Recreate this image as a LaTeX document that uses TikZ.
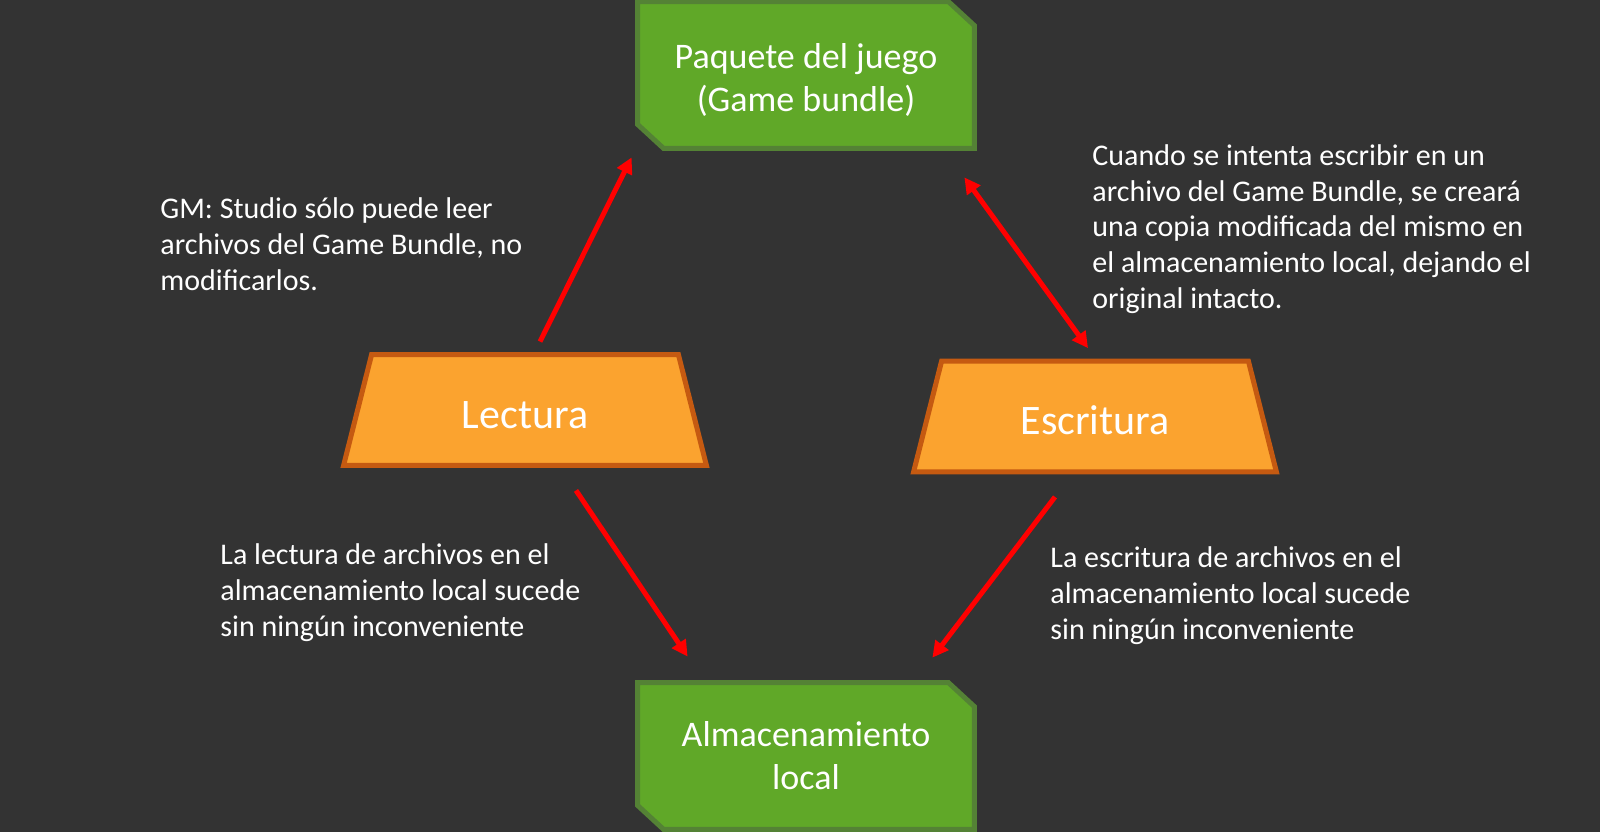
\documentclass[tikz,border=0pt]{standalone}
\usepackage{fontspec}
\setmainfont{Carlito}
\usetikzlibrary{calc,arrows.meta}
\definecolor{bgdark}{HTML}{333333}
\definecolor{boxgreen}{HTML}{60A828}
\definecolor{edgegreen}{HTML}{548235}
\definecolor{boxorange}{HTML}{FBA32F}
\definecolor{edgeorange}{HTML}{C55A11}
\definecolor{arrowred}{HTML}{FF0000}
\pgfdeclarelayer{canvas}
\pgfdeclarelayer{shapes}
\pgfsetlayers{canvas,shapes,main}
\tikzset{
  storebox/.style={minimum width=168pt, minimum height=73pt, inner sep=0pt,
    text=white, align=center, font=\fontsize{18}{21.5}\selectfont},
  modebox/.style={minimum width=181pt, minimum height=55pt, inner sep=0pt,
    text height=18pt, text depth=0pt, text=white, font=\fontsize{21}{25}\selectfont},
  note/.style={anchor=base west, inner sep=0pt, text=white, align=left,
    font=\fontsize{15}{17.8}\selectfont},
  greenedge/.style={fill=boxgreen, draw=edgegreen, line width=2.5pt, line join=miter},
  orangeedge/.style={fill=boxorange, draw=edgeorange, line width=2.5pt, line join=miter},
  flow/.style={draw=arrowred, line width=2.5pt, -{Triangle[length=8pt,width=8pt]}},
  flowboth/.style={draw=arrowred, line width=2.5pt, {Triangle[length=8pt,width=8pt]}-{Triangle[length=8pt,width=8pt]}}
}
\begin{document}
\begin{tikzpicture}[x=0.5pt, y=-0.5pt]
    \begin{pgfonlayer}{canvas}
        \fill [bgdark] (0,0) rectangle (1600,832);
    \end{pgfonlayer}
    \useasboundingbox (0,0) rectangle (1600,832);

    % storage boxes
    \node [storebox] (bundle) at (806,75) {\rule{0pt}{17pt}Paquete del juego\\(Game bundle)};
    \node [storebox] (local) at (806,756) {Almacenamiento\\local};

    % access modes
    \node [modebox] (lectura) at (525,410) {Lectura};
    \node [modebox] (escritura) at (1095,416.5) {Escritura};

    \begin{pgfonlayer}{shapes}
        \foreach \b in {bundle,local}
            \draw [greenedge] (\b.north west) -- ($(\b.north east)+(-26,0)$) -- ($(\b.north east)+(0,24)$)
                -- (\b.south east) -- ($(\b.south west)+(26,0)$) -- ($(\b.south west)+(0,-24)$) -- cycle;
        \foreach \m in {lectura,escritura}
            \draw [orangeedge] ($(\m.north west)+(28,0)$) -- ($(\m.north east)+(-28,0)$)
                -- (\m.south east) -- (\m.south west) -- cycle;
    \end{pgfonlayer}

    % notes (anchored at the last line)
    \node [note] (noteread) at (160,290) {GM: Studio sólo puede leer\\archivos del Game Bundle, no\\modificarlos.};
    \node [note] (notecopy) at (1092,308) {Cuando se intenta escribir en un\\archivo del Game Bundle, se creará\\una copia modificada del mismo en\\el almacenamiento local, dejando el\\original intacto.};
    \node [note] (notelocalread) at (220,636) {La lectura de archivos en el\\almacenamiento local sucede\\sin ningún inconveniente};
    \node [note] (notelocalwrite) at (1050,639) {La escritura de archivos en el\\almacenamiento local sucede\\sin ningún inconveniente};

    % arrows
    \draw [flow] ($(lectura.north)+(15,-13)$) -- ($(bundle.south west)+(-6,9)$);
    \draw [flowboth] ($(bundle.south east)+(-10,29)$) -- ($(escritura.north)+(-7,-13)$);
    \draw [flow] ($(lectura.south)+(51,25)$) -- ($(local.north west)+(50,-26)$);
    \draw [flow] ($(escritura.south)+(-40,25)$) -- ($(local.north east)+(-42,-25)$);
\end{tikzpicture}
\end{document}
